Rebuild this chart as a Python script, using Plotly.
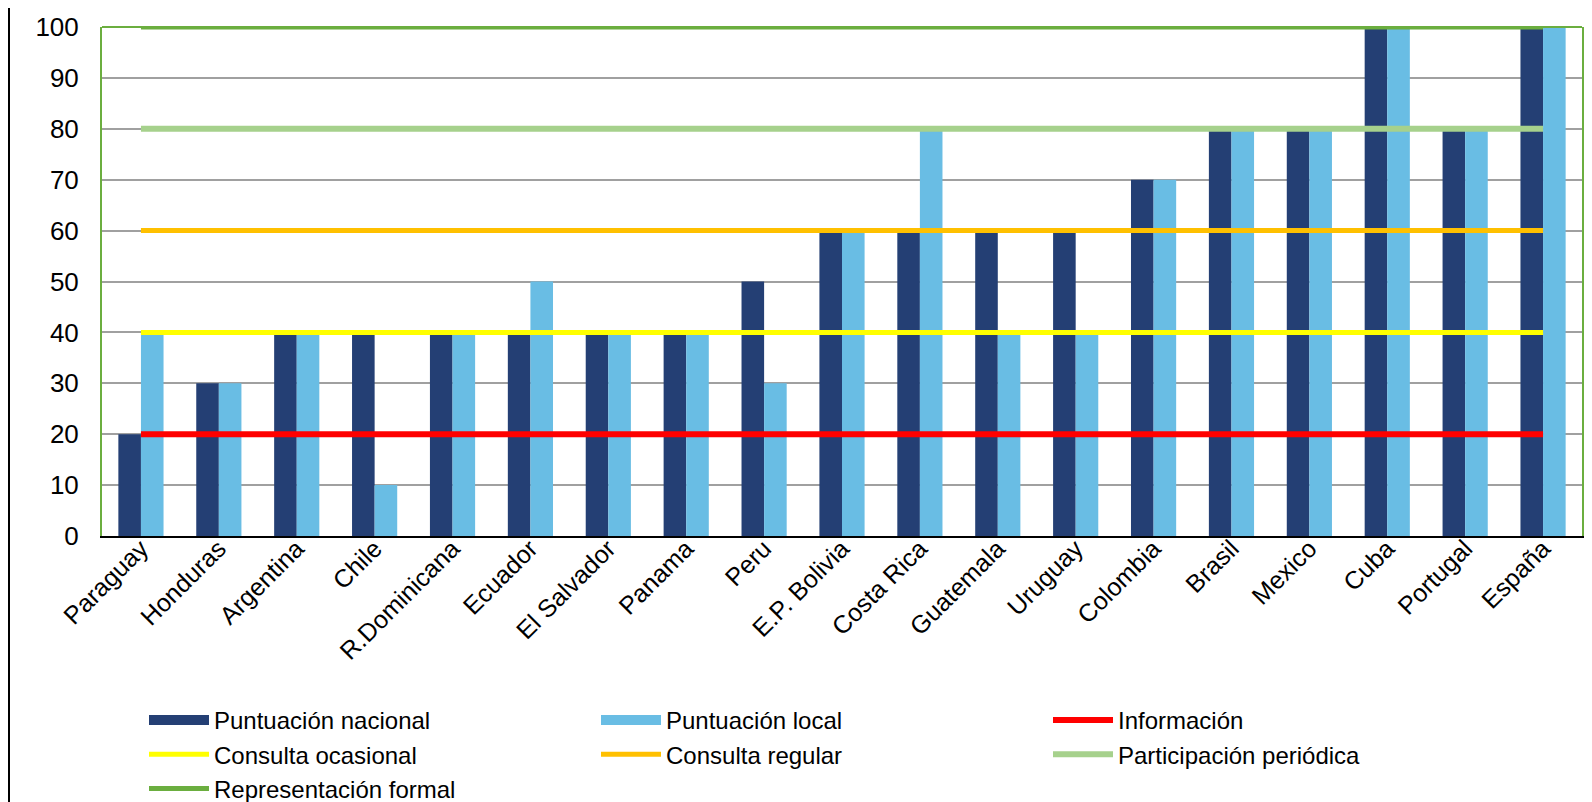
import plotly.graph_objects as go

paises = ["Paraguay", "Honduras", "Argentina", "Chile", "R.Dominicana", "Ecuador",
          "El Salvador", "Panama", "Peru", "E.P. Bolivia", "Costa Rica", "Guatemala",
          "Uruguay", "Colombia", "Brasil", "Mexico", "Cuba", "Portugal", "España"]
puntuacion_nacional = [20, 30, 40, 40, 40, 40, 40, 40, 50, 60, 60, 60, 60, 70, 80, 80, 100, 80, 100]
puntuacion_local = [40, 30, 40, 10, 40, 50, 40, 40, 30, 60, 80, 40, 40, 70, 80, 80, 100, 80, 100]

niveles_nombres = ["Información", "Consulta ocasional", "Consulta regular",
                   "Participación periódica", "Representación formal"]
niveles_valores = [20, 40, 60, 80, 100]
niveles_colores = ["#FF0000", "#FFFF00", "#FFC000", "#A6D18C", "#6BAE3F"]
niveles_anchos = [6, 5, 5, 6, 5]

COL_NAC = "#243F74"
COL_LOC = "#69BDE4"
FONT = "Liberation Sans, Arial, sans-serif"
# page has an 8px body margin, so the figure is drawn at (8, 8)
W, H = 1584, 794
L, R, T, B = 94, 10, 19, 266
ph = H - T - B

fig = go.Figure()
fig.add_trace(go.Bar(x=paises, y=puntuacion_nacional, name="Puntuación nacional",
                     marker=dict(color=COL_NAC, line=dict(width=0)),
                     legendgroup="nac", showlegend=False))
fig.add_trace(go.Bar(x=paises, y=puntuacion_local, name="Puntuación local",
                     marker=dict(color=COL_LOC, line=dict(width=0)),
                     legendgroup="loc", showlegend=False))
# legend entries shaped like wide rectangles for the bar series (draw nothing)
vacio = [None] * len(paises)
fig.add_trace(go.Scatter(x=paises, y=vacio, name="Puntuación nacional", mode="lines",
                         line=dict(color=COL_NAC, width=12), legendgroup="nac"))
fig.add_trace(go.Scatter(x=paises, y=vacio, name="Puntuación local", mode="lines",
                         line=dict(color=COL_LOC, width=12), legendgroup="loc"))
for nombre, valor, color, ancho in zip(niveles_nombres, niveles_valores, niveles_colores, niveles_anchos):
    fig.add_trace(go.Scatter(x=paises, y=[valor] * len(paises), name=nombre, mode="lines",
                             line=dict(color=color, width=ancho), cliponaxis=False))

fig.update_layout(
    width=W, height=H,
    margin=dict(l=L, r=R, t=T, b=B, autoexpand=False),
    paper_bgcolor="white", plot_bgcolor="white",
    barmode="group", bargap=0.42, bargroupgap=0,
    font=dict(family=FONT, size=25, color="black"),
    xaxis=dict(showgrid=False, showline=True, linecolor="black", linewidth=2,
               tickangle=-45, ticks="", tickfont=dict(size=25), ticklabelstandoff=-14),
    yaxis=dict(range=[0, 100], dtick=10, showgrid=True, gridcolor="#A0A0A0", gridwidth=2,
               showline=True, linecolor="#6BAE3F", linewidth=2, mirror=True,
               zeroline=False, ticks="", ticklabelstandoff=16, tickfont=dict(size=26)),
    legend=dict(orientation="h", xref="container", yref="container",
                x=136 / W, y=1 - 690 / H, xanchor="left", yanchor="top",
                entrywidth=377, entrywidthmode="pixels", itemwidth=60,
                font=dict(size=24, color="black"), traceorder="normal",
                bgcolor="rgba(0,0,0,0)"),
    showlegend=True,
)
# top border of plot area (green) and left frame line
fig.add_shape(type="line", xref="paper", yref="paper", x0=0, x1=1, y0=1, y1=1,
              line=dict(color="#6BAE3F", width=2))
fig.add_shape(type="line", xref="paper", yref="paper", xsizemode="pixel", xanchor=0,
              x0=-(L - 1), x1=-(L - 1), y0=-B / ph, y1=1 + T / ph,
              line=dict(color="black", width=2))

fig.write_html("out.html")
